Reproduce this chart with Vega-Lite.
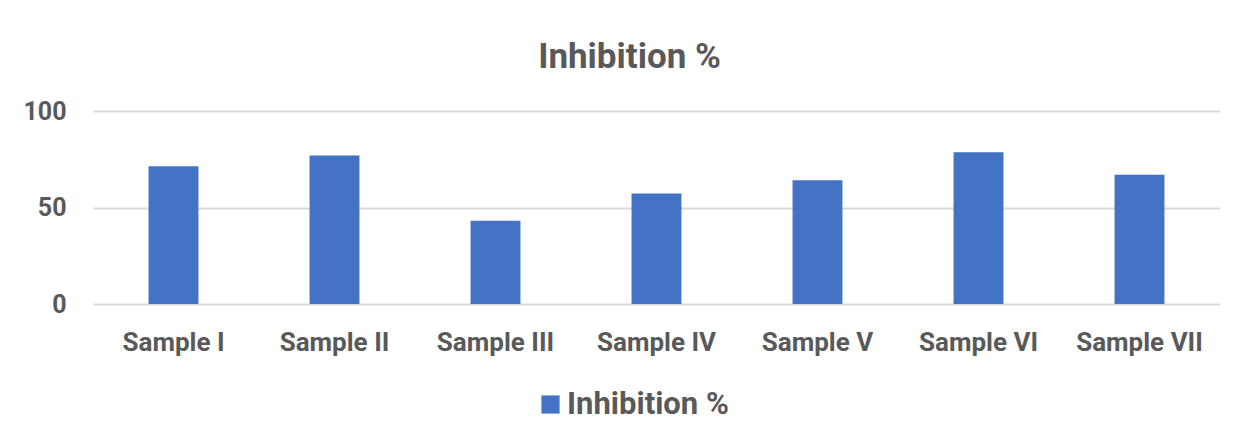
{
  "$schema": "https://vega.github.io/schema/vega-lite/v6.json",
  "width": 1127,
  "height": 193,
  "autosize": {"type": "none"},
  "padding": {"left": 93, "top": 111, "right": 17, "bottom": 137},
  "background": "white",
  "title": {
    "text": "Inhibition %",
    "font": "Roboto",
    "fontSize": 35,
    "fontWeight": "bold",
    "color": "#595959",
    "anchor": "middle",
    "dx": -27,
    "offset": 24
  },
  "data": {
    "values": [
      {"sample": "Sample I", "value": 71.4, "series": "Inhibition %"},
      {"sample": "Sample II", "value": 77.0, "series": "Inhibition %"},
      {"sample": "Sample III", "value": 43.1, "series": "Inhibition %"},
      {"sample": "Sample IV", "value": 57.2, "series": "Inhibition %"},
      {"sample": "Sample V", "value": 64.1, "series": "Inhibition %"},
      {"sample": "Sample VI", "value": 78.6, "series": "Inhibition %"},
      {"sample": "Sample VII", "value": 67.0, "series": "Inhibition %"}
    ]
  },
  "mark": {"type": "bar"},
  "encoding": {
    "x": {
      "field": "sample",
      "type": "nominal",
      "sort": null,
      "scale": {"paddingInner": 0.69, "paddingOuter": 0.345},
      "axis": {
        "title": null,
        "labelAngle": 0,
        "labelFont": "Roboto",
        "labelFontSize": 26,
        "labelFontWeight": "bold",
        "labelColor": "#595959",
        "labelPadding": 25,
        "labelLimit": 0,
        "domain": false,
        "ticks": false
      }
    },
    "y": {
      "field": "value",
      "type": "quantitative",
      "scale": {"domain": [0, 100]},
      "axis": {
        "title": null,
        "values": [0, 50, 100],
        "labelFont": "Roboto",
        "labelFontSize": 25,
        "labelFontWeight": "bold",
        "labelColor": "#595959",
        "labelPadding": 27,
        "domain": false,
        "ticks": false,
        "grid": true,
        "gridColor": "#D9D9D9",
        "gridWidth": 2
      }
    },
    "color": {
      "field": "series",
      "type": "nominal",
      "scale": {"range": ["#4472C4"]},
      "legend": {
        "title": null,
        "orient": "none",
        "legendX": 442,
        "legendY": 278,
        "symbolType": "square",
        "symbolSize": 330,
        "symbolStrokeWidth": 0,
        "symbolOpacity": 1,
        "labelFont": "Roboto",
        "labelFontSize": 31,
        "labelFontWeight": "bold",
        "labelColor": "#595959",
        "labelOffset": 1,
        "labelLimit": 0
      }
    }
  },
  "config": {
    "view": {"stroke": null}
  }
}
